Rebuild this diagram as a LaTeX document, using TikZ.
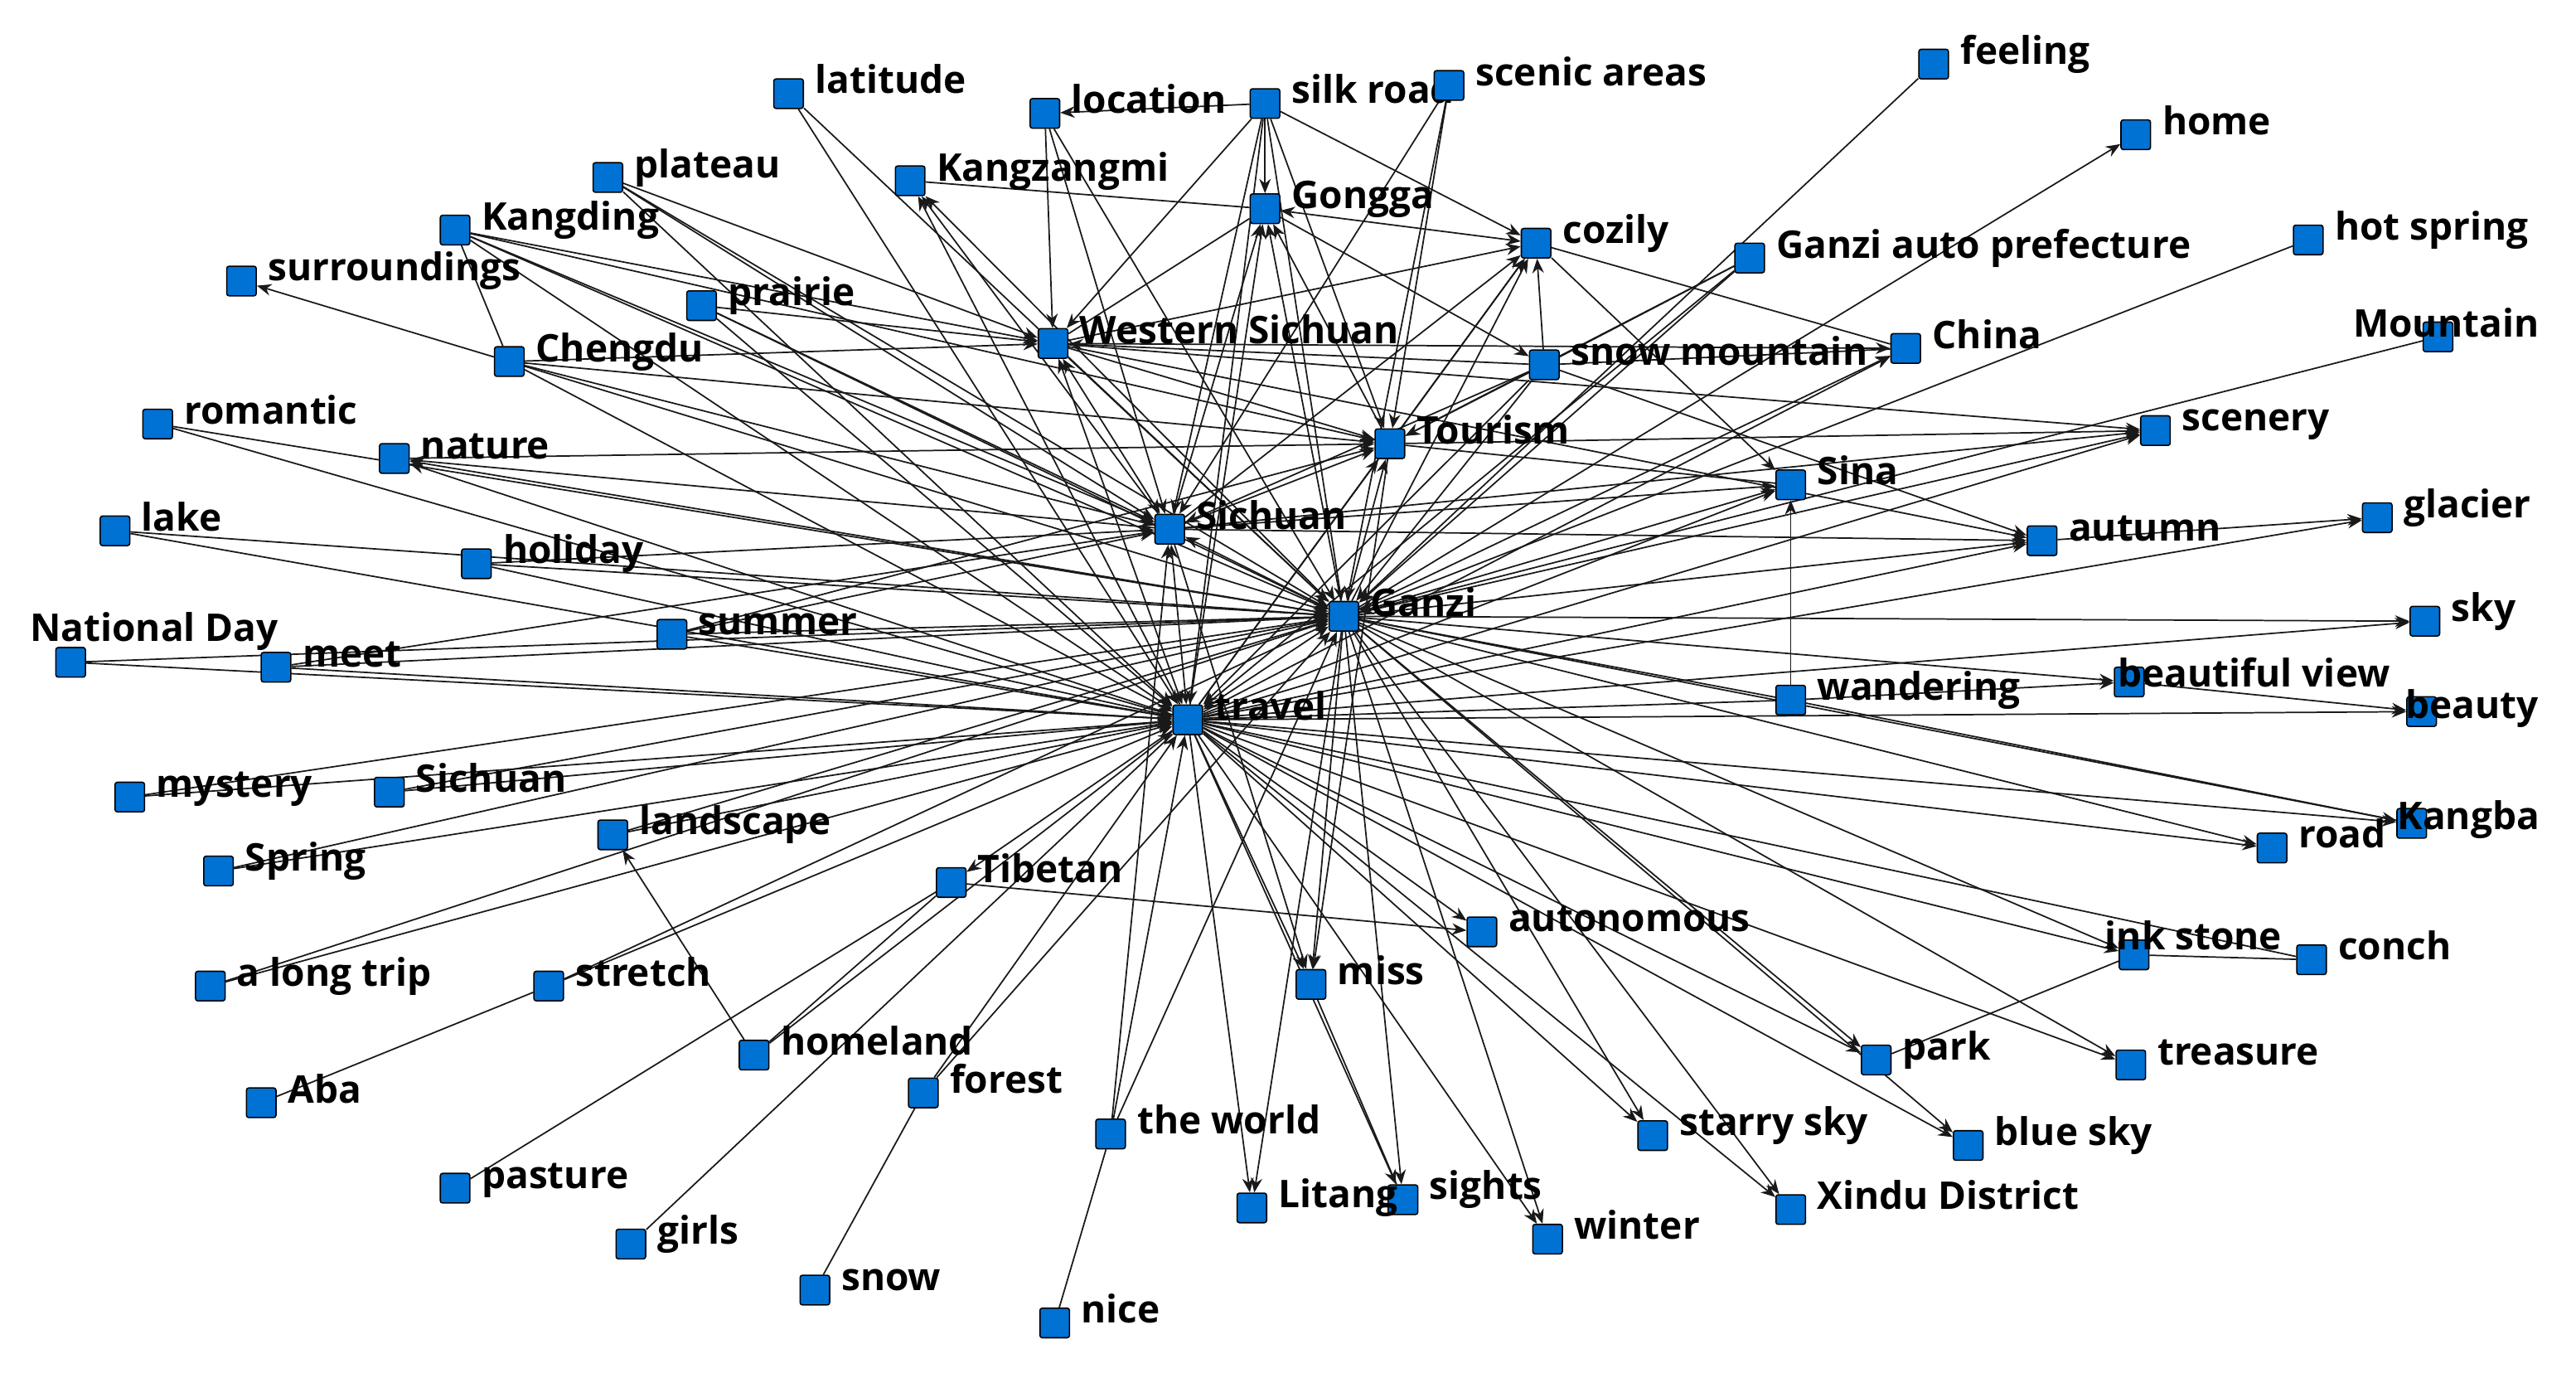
\documentclass[tikz,border=0pt]{standalone}
\usepackage{fontspec}
\setmainfont{Open Sans}
\usetikzlibrary{arrows.meta}
\definecolor{nodeblue}{RGB}{0,114,212}
\pgfdeclarelayer{bg}
\pgfsetlayers{bg,main}
\newcommand\lblfont{\fontsize{13.2pt}{15pt}\selectfont\bfseries}
\newcommand\PutNode[4]{\node[box] (#1) at (#2,#3) {};\node[lbl] (#1-l) at ([xshift=0.13cm]#1.east) {#4};}
\newcommand\PutNodeL[6]{\node[box] (#1) at (#2,#3) {};\node[lbl] (#1-l) at (#4,#5) {#6};}
\tikzset{
  box/.style={draw=black, line width=0.45pt, fill=nodeblue, minimum size=0.36cm, inner sep=0pt, rounded corners=0.8pt},
  lbl/.style={font=\lblfont, inner sep=0pt, anchor=base west, text=black},
  edge/.style={draw=black!90, line width=0.5pt},
  ar/.style={edge, -{Stealth[length=5pt,width=4pt]}},
  ba/.style={edge, {Stealth[length=5pt,width=4pt]}-{Stealth[length=5pt,width=4pt]}},
}
\begin{document}
\begin{tikzpicture}[x=0.02cm,y=-0.02cm]
\useasboundingbox (0,0) rectangle (1568,835);
% nodes
\PutNode{latitude}{480}{57}{latitude}
\PutNode{location}{636}{69}{location}
\PutNode{silk}{770}{63}{silk road}
\PutNode{scenic}{882}{52}{scenic areas}
\PutNode{feeling}{1177}{39}{feeling}
\PutNode{home}{1300}{82}{home}
\PutNode{kzm}{554}{110}{Kangzangmi}
\PutNode{plateau}{370}{108}{plateau}
\PutNode{kangding}{277}{140}{Kangding}
\PutNode{gongga}{770}{127}{Gongga}
\PutNode{cozily}{935}{148}{cozily}
\PutNode{gzauto}{1065}{157}{Ganzi auto prefecture}
\PutNode{hotspring}{1405}{146}{hot spring}
\PutNode{surround}{147}{171}{surroundings}
\PutNode{prairie}{427}{186}{prairie}
\PutNode{wsich}{641}{209}{Western Sichuan}
\PutNode{snowmtn}{940}{222}{snow mountain}
\PutNode{china}{1160}{212}{China}
\PutNodeL{mountain}{1484}{205}{1432}{205}{Mountain}
\PutNode{chengdu}{310}{220}{Chengdu}
\PutNode{romantic}{96}{258}{romantic}
\PutNode{nature}{240}{279}{nature}
\PutNode{tourism}{846}{270}{Tourism}
\PutNode{scenery}{1312}{262}{scenery}
\PutNode{sina}{1090}{295}{Sina}
\PutNode{lake}{70}{323}{lake}
\PutNode{sichuan}{712}{322}{Sichuan}
\PutNode{autumn}{1243}{329}{autumn}
\PutNode{glacier}{1447}{315}{glacier}
\PutNode{holiday}{290}{343}{holiday}
\PutNode{ganzi}{818}{375}{Ganzi}
\PutNode{sky}{1476}{378}{sky}
\PutNode{summer}{409}{386}{summer}
\PutNodeL{natday}{43}{403}{18}{390}{National Day}
\PutNode{meet}{168}{406}{meet}
\PutNodeL{bview}{1296}{415}{1289}{418}{beautiful view}
\PutNode{wander}{1090}{426}{wandering}
\PutNodeL{beauty}{1474}{433}{1464}{437}{beauty}
\PutNode{travel}{723}{438}{travel}
\PutNode{mystery}{79}{485}{mystery}
\PutNode{sichuanb}{237}{482}{Sichuan}
\PutNodeL{kangba}{1468}{501}{1459}{505}{Kangba}
\PutNode{landscape}{373}{508}{landscape}
\PutNode{road}{1383}{516}{road}
\PutNode{spring}{133}{530}{Spring}
\PutNode{tibetan}{579}{537}{Tibetan}
\PutNode{auton}{902}{567}{autonomous}
\PutNodeL{inkstone}{1299}{581}{1281}{578}{ink stone}
\PutNode{conch}{1407}{584}{conch}
\PutNode{longtrip}{128}{600}{a long trip}
\PutNode{stretch}{334}{600}{stretch}
\PutNode{miss}{798}{599}{miss}
\PutNode{homeland}{459}{642}{homeland}
\PutNode{park}{1142}{645}{park}
\PutNode{treasure}{1297}{648}{treasure}
\PutNode{forest}{562}{665}{forest}
\PutNode{aba}{159}{671}{Aba}
\PutNode{world}{676}{690}{the world}
\PutNode{starry}{1006}{691}{starry sky}
\PutNode{bluesky}{1198}{697}{blue sky}
\PutNode{pasture}{277}{723}{pasture}
\PutNode{sights}{854}{730}{sights}
\PutNode{litang}{762}{735}{Litang}
\PutNode{xindu}{1090}{736}{Xindu District}
\PutNode{winter}{942}{754}{winter}
\PutNode{girls}{384}{757}{girls}
\PutNode{snow}{496}{785}{snow}
\PutNode{nice}{642}{805}{nice}
% edges
\begin{pgfonlayer}{bg}
\foreach \a/\b in {kzm/gongga, aba/stretch, homeland/tibetan, pasture/tibetan, snow/forest,
  nice/world, miss/sights, park/inkstone, inkstone/conch, cozily/china, snowmtn/china,
  tourism/sina, travel/wander, ganzi/wander, gzauto/snowmtn, girls/travel, wsich/gongga,
  travel/conch, wander/kangba, chengdu/kangding}
  \draw[edge] (\a) -- (\b);
\foreach \a/\b in {travel/ganzi, gongga/cozily, travel/sichuan, ganzi/sichuan, wsich/sichuan, travel/wsich}
  \draw[ba] (\a) -- (\b);
\foreach \a/\b in {
latitude/travel, latitude/ganzi,
location/wsich, location/sichuan, location/ganzi, silk/location,
silk/gongga, silk/wsich, silk/sichuan, silk/travel, silk/ganzi, silk/tourism, silk/cozily,
scenic/ganzi, scenic/tourism, scenic/sichuan,
feeling/ganzi, ganzi/home, hotspring/ganzi, mountain/ganzi,
gzauto/travel, gzauto/ganzi, gzauto/tourism,
wsich/cozily, tourism/cozily, sichuan/cozily, travel/cozily, ganzi/cozily, cozily/sina,
travel/kzm, sichuan/kzm, ganzi/kzm,
plateau/wsich, plateau/sichuan, plateau/ganzi, plateau/travel,
kangding/sichuan, kangding/ganzi, kangding/travel, kangding/tourism, kangding/wsich,
chengdu/surround, chengdu/wsich, chengdu/tourism, chengdu/sichuan, chengdu/ganzi, chengdu/travel,
prairie/wsich, prairie/travel, prairie/ganzi, prairie/sichuan,
romantic/ganzi, romantic/travel,
sichuan/nature, travel/nature, ganzi/nature, nature/tourism,
lake/ganzi, lake/travel,
holiday/ganzi, holiday/travel, holiday/sichuan,
natday/ganzi, natday/travel,
meet/ganzi, meet/travel, meet/sichuan,
summer/ganzi, summer/travel, summer/sichuan, summer/tourism,
mystery/travel, mystery/ganzi,
sichuanb/travel, sichuanb/ganzi,
spring/travel, spring/ganzi,
landscape/travel, landscape/ganzi, homeland/landscape,
longtrip/travel, longtrip/ganzi,
stretch/travel, stretch/ganzi,
travel/tibetan, tibetan/auton, homeland/travel,
forest/travel, forest/ganzi,
world/travel, world/ganzi, world/sichuan,
travel/litang, ganzi/litang,
travel/miss, ganzi/miss, sichuan/miss, tourism/miss,
ganzi/sights, travel/sights, ganzi/winter, travel/winter,
travel/auton, ganzi/starry, travel/starry, ganzi/xindu, travel/xindu,
ganzi/park, travel/park, ganzi/bluesky, travel/bluesky,
ganzi/treasure, travel/treasure, travel/inkstone, ganzi/inkstone,
travel/road, ganzi/road, travel/kangba, ganzi/kangba,
travel/beauty, bview/beauty, wander/bview, ganzi/bview,
ganzi/sky, travel/sky, wander/sina,
autumn/glacier, travel/glacier,
ganzi/autumn, travel/autumn, sichuan/autumn, snowmtn/autumn, wsich/autumn,
ganzi/sina, travel/sina, sichuan/sina,
ganzi/scenery, travel/scenery, tourism/scenery, sichuan/scenery, wsich/scenery,
ganzi/china, travel/china, wsich/china,
snowmtn/wsich, snowmtn/tourism, snowmtn/sichuan, snowmtn/ganzi, snowmtn/travel, gongga/snowmtn, snowmtn/cozily,
wsich/ganzi, wsich/tourism,
travel/gongga, ganzi/gongga, sichuan/gongga, tourism/gongga,
travel/tourism, ganzi/tourism, sichuan/tourism}
  \draw[ar] (\a) -- (\b);
\end{pgfonlayer}
\end{tikzpicture}
\end{document}
